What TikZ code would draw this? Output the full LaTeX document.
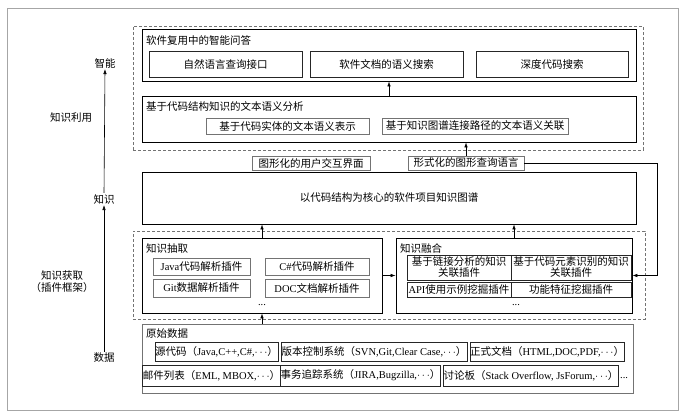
\documentclass[tikz,border=0pt]{standalone}
\usepackage{fontspec}
\setmainfont{Noto Sans CJK SC}
\newfontfamily\lat{Liberation Serif}
\newcommand\en[1]{{\lat #1}}
\newcommand\cdt{\ensuremath{\cdots}}
\usetikzlibrary{arrows.meta}
\begin{document}
\begin{tikzpicture}[x=1pt,y=-1pt,
  every node/.style={font=\fontsize{10.5}{12.5}\selectfont},
  frame/.style={draw=black!35, line width=0.8pt},
  dashbox/.style={draw=black!55, dash pattern=on 3pt off 2pt, line width=0.6pt, rectangle, inner sep=0pt},
  panel/.style={draw=black, line width=0.8pt, rectangle, inner sep=0pt},
  graypanel/.style={draw=black!55, line width=0.8pt, rectangle, inner sep=0pt},
  sub/.style={draw=black!85, line width=0.8pt, rectangle, inner sep=1pt, align=center},
  graysub/.style={draw=black!55, line width=0.8pt, rectangle, inner sep=1pt, align=center},
  ttl/.style={anchor=west, inner sep=0pt},
  lbl/.style={inner sep=1pt, align=center},
  arr/.style={-{Latex[length=5pt,width=3.5pt]}, line width=0.6pt}]
\useasboundingbox (0,0) rectangle (700,415);
\draw[frame] (7,8) rectangle (678,410);

% dashed groups
\node[dashbox, minimum width=510pt, minimum height=124pt] (D1) at (388,88) {};
\node[dashbox, minimum width=512pt, minimum height=88pt] (D2) at (389,275) {};

% intelligent QA
\node[panel, minimum width=494pt, minimum height=52pt] (Q) at (389,55) {};
\node[ttl] (Qt) at (146,41) {软件复用中的智能问答};
\node[sub, minimum width=153pt, minimum height=26pt] (q1) at (225.5,64) {自然语言查询接口};
\node[sub, minimum width=153pt, minimum height=26pt] (q2) at (386.5,64) {软件文档的语义搜索};
\node[sub, minimum width=152pt, minimum height=26pt] (q3) at (552,64) {深度代码搜索};

% semantic analysis
\node[panel, minimum width=494pt, minimum height=46pt] (S) at (389,119) {};
\node[ttl] (St) at (146,106) {基于代码结构知识的文本语义分析};
\node[graysub, minimum width=163pt, minimum height=16pt] (s1) at (287.5,126) {基于代码实体的文本语义表示};
\node[graysub, minimum width=186pt, minimum height=16pt] (s2) at (475,126) {基于知识图谱连接路径的文本语义关联};

% interfaces
\node[graysub, minimum width=118pt, minimum height=14pt, inner sep=0pt] (g1) at (311,163) {图形化的用户交互界面};
\node[graysub, minimum width=116pt, minimum height=14pt, inner sep=0pt] (g2) at (466,163) {形式化的图形查询语言};

% knowledge graph
\node[panel, minimum width=494pt, minimum height=52pt] (KG) at (389,198) {以代码结构为核心的软件项目知识图谱};

% extraction
\node[panel, minimum width=240pt, minimum height=75pt] (E) at (262,275.5) {};
\node[ttl] (Et) at (146,248) {知识抽取};
\node[graysub, minimum width=97pt, minimum height=17pt] (e1) at (201.5,266.5) {\en{Java}代码解析插件};
\node[graysub, minimum width=104pt, minimum height=17pt] (e2) at (317,266.5) {\en{C\#}代码解析插件};
\node[graysub, minimum width=97pt, minimum height=18pt] (e3) at (201.5,288) {\en{Git}数据解析插件};
\node[graysub, minimum width=104pt, minimum height=18pt] (e4) at (317,288) {\en{DOC}文档解析插件};
\node[lbl] (edots) at (262,305) {\en{...}};

% fusion
\node[panel, minimum width=236pt, minimum height=75pt] (F) at (514,275.5) {};
\node[ttl] (Ft) at (400,248) {知识融合};
\node[sub, minimum width=104pt, minimum height=25pt, inner sep=0pt, font=\fontsize{10.5}{11}\selectfont] (f1) at (459,267.5) {基于链接分析的知识\\关联插件};
\node[sub, minimum width=120pt, minimum height=25pt, inner sep=0pt, font=\fontsize{10.5}{11}\selectfont] (f2) at (571,267.5) {基于代码元素识别的知识\\关联插件};
\node[sub, minimum width=104pt, minimum height=15pt, inner sep=0pt] (f3) at (459,289.5) {\en{API}使用示例挖掘插件};
\node[sub, minimum width=120pt, minimum height=15pt, inner sep=0pt] (f4) at (571,289.5) {功能特征挖掘插件};
\node[lbl] (fdots) at (516,305) {\en{...}};

% raw data
\node[graypanel, minimum width=491pt, minimum height=69pt] (R) at (387.5,358.5) {};
\node[ttl] (Rt) at (146,334) {原始数据};
\node[sub, minimum width=123pt, minimum height=19pt, inner sep=0pt] (r1) at (216.5,352) {源代码（\en{Java,C++,C\#,}\cdt）};
\node[sub, minimum width=186pt, minimum height=19pt, inner sep=0pt] (r2) at (374,352) {版本控制系统（\en{SVN,Git,Clear Case,}\cdt）};
\node[sub, minimum width=152pt, minimum height=19pt, inner sep=0pt] (r3) at (547,352) {正式文档（\en{HTML,DOC,PDF,}\cdt）};
\node[sub, minimum width=133pt, minimum height=21pt, inner sep=0pt] (r4) at (211.5,375.5) {邮件列表（\en{EML, MBOX,}\cdt）};
\node[sub, minimum width=159pt, minimum height=21pt, inner sep=0pt] (r5) at (360.5,375.5) {事务追踪系统（\en{JIRA,Bugzilla,}\cdt）};
\node[sub, minimum width=174pt, minimum height=21pt, inner sep=0pt] (r6) at (531,375.5) {讨论板（\en{Stack Overflow, JsForum,}\cdt）};
\node[lbl, anchor=west] (rdots) at (619,378) {\en{...}};

% left labels
\node[lbl] (L1) at (105,63) {智能};
\node[lbl] (L2) at (71,118) {知识利用};
\node[lbl] (L3) at (104,199) {知识};
\node[lbl, font=\fontsize{10.5}{12}\selectfont] (L4) at (62,282) {知识获取\\（插件框架）};
\node[lbl] (L5) at (104,358) {数据};

% arrows
\draw[arr] (L3.north) -- (L1.south);
\draw[arr] (L5.north) -- (L3.south);
\draw[arr] (S.north) -- (Q.south);
\draw[arr] (g2.north) -- (g2.north |- S.south);
\draw[arr] (E.north) -- (E.north |- KG.south);
\draw[arr] (F.north) -- (F.north |- KG.south);
\draw[arr] (E.east) -- (F.west);
\draw[arr] (E.south |- R.north) -- (E.south);
\draw[arr] (g2.east) -- ++(133,0) |- (F.east);
\end{tikzpicture}
\end{document}
